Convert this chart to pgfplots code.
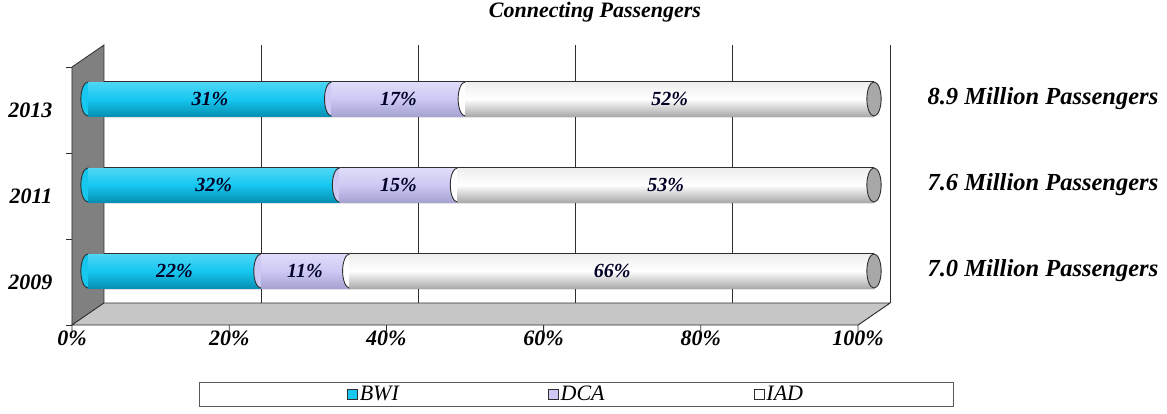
\documentclass[border=0pt]{standalone}
\usepackage{fontspec}
\setmainfont{Liberation Serif}
\usepackage{pgfplots}
\pgfplotsset{compat=1.18}

\definecolor{bwiT}{HTML}{4ED6F4}
\definecolor{bwiM}{HTML}{16C7F0}
\definecolor{bwiB}{HTML}{0690B4}
\definecolor{dcaT}{HTML}{DEDCF8}
\definecolor{dcaM}{HTML}{CDC9F4}
\definecolor{dcaB}{HTML}{A6A2D2}
\definecolor{iadT}{HTML}{EEEEEE}
\definecolor{iadM}{HTML}{FFFFFF}
\definecolor{iadB}{HTML}{ABABAB}
\definecolor{capgray}{HTML}{A8A8A8}
\definecolor{edge}{HTML}{2E2E2E}
\definecolor{wall}{HTML}{808080}
\definecolor{floor}{HTML}{C6C6C6}

\newcommand{\bi}[1]{\bfseries\itshape\fontsize{#1}{#1}\selectfont}

\pgfplotsset{
  base/.style={
    scale only axis, width=786pt, height=258pt,
    at={(88pt,99pt)}, anchor=south west,
    xmin=0, xmax=100, ymin=-0.5, ymax=2.5,
    clip=false, axis line style={draw=none}, tick style={draw=none},
  },
  cap/.style={mark=*, mark size=17pt,
    mark options={xscale=0.42, fill=#1, draw=edge, line width=0.9pt}},
}

% one shaded cylinder per year: #1 row, #2 BWI, #3 DCA, #4 IAD
\newcommand{\cylinder}[4]{%
\begin{axis}[base, xbar stacked, stacked ignores zero=false, reverse stacked plots=false,
  clip marker paths=true, bar width=34pt, xtick=\empty, ytick=\empty]
\addplot[only marks, cap=bwiM] coordinates {(0,#1)};
\addplot[draw=none, top color=bwiT, bottom color=bwiB, middle color=bwiM, cap=dcaM] coordinates {(#2,#1)};
\addplot[draw=none, top color=dcaT, bottom color=dcaB, middle color=dcaM, cap=iadM] coordinates {(#3,#1)};
\addplot[draw=none, top color=iadT, bottom color=iadB, middle color=iadM, cap=capgray] coordinates {(#4,#1)};
\end{axis}}

\begin{document}
\begin{tikzpicture}
% frame, outlines of the cylinders, axis labels
\begin{axis}[base, xbar stacked, bar width=36pt,
  xtick={0,20,40,60,80,100}, xticklabels={0\%,20\%,40\%,60\%,80\%,100\%},
  ytick={0,1,2}, yticklabels={2009,2011,2013},
  xticklabel style={font=\bi{22}, xshift=-16pt, yshift=-13pt},
  yticklabel style={font=\bi{22}, xshift=-32pt, yshift=-11pt},
  title={Connecting Passengers},
  title style={at={(0.645,1.147)}, anchor=center, font=\bi{22}},
]
% floor
\filldraw[fill=floor, draw=edge, line width=0.8pt]
  ([xshift=-16pt,yshift=-11pt]axis cs:0,-0.5) -- ([xshift=-16pt,yshift=-11pt]axis cs:100,-0.5)
  -- ([xshift=16pt,yshift=11pt]axis cs:100,-0.5) -- ([xshift=16pt,yshift=11pt]axis cs:0,-0.5) -- cycle;
% left wall
\filldraw[fill=wall, draw=edge, line width=0.8pt]
  ([xshift=-16pt,yshift=-11pt]axis cs:0,-0.5) -- ([xshift=-16pt,yshift=-11pt]axis cs:0,2.5)
  -- ([xshift=16pt,yshift=11pt]axis cs:0,2.5) -- ([xshift=16pt,yshift=11pt]axis cs:0,-0.5) -- cycle;
% grid on the back wall, lines across the floor, ticks
\pgfplotsinvokeforeach{20,40,60,80,100}{
  \draw[edge, line width=0.8pt] ([xshift=16pt,yshift=11pt]axis cs:#1,-0.5) -- ([xshift=16pt,yshift=11pt]axis cs:#1,2.5);
}
\pgfplotsinvokeforeach{0,20,40,60,80,100}{
  \draw[edge, line width=0.8pt] ([xshift=16pt,yshift=11pt]axis cs:#1,-0.5) -- ([xshift=-16pt,yshift=-11pt]axis cs:#1,-0.5)
    -- ++(0pt,-8pt);
}
\pgfplotsinvokeforeach{-0.5,0.5,1.5,2.5}{
  \draw[edge, line width=0.8pt] ([xshift=-16pt,yshift=-11pt]axis cs:0,#1) -- ++(-6pt,0pt);
}
% dark outline of the cylinders
\addplot[fill=edge, draw=none] coordinates {(22,0) (32,1) (31,2)};
\addplot[fill=edge, draw=none] coordinates {(11.3,0) (15,1) (17,2)};
\addplot[fill=edge, draw=none] coordinates {(66.7,0) (53,1) (52,2)};
\end{axis}

% shaded cylinders
\cylinder{0}{22}{11.3}{66.7}
\cylinder{1}{32}{15}{53}
\cylinder{2}{31}{17}{52}

% value labels, totals, legend
\begin{axis}[base, xtick=\empty, ytick={0,1,2}, yticklabel pos=right,
  yticklabels={7.0 Million Passengers,7.6 Million Passengers,8.9 Million Passengers},
  yticklabel style={font=\bi{24.5}, anchor=west, xshift=50pt},
  legend image code/.code={\draw[#1] (0pt,-5pt) rectangle (10pt,5pt);},
  legend columns=3,
  legend style={at={(0.6209,-0.2636)}, anchor=north, draw=gray!70!black, line width=0.8pt,
    font=\itshape\fontsize{22}{22}\selectfont, inner xsep=148pt, inner ysep=2pt,
    nodes={inner sep=2pt},
    /tikz/every even column/.append style={column sep=147pt}},
]
\addlegendimage{fill=bwiM, draw=edge, line width=0.8pt}
\addlegendimage{fill=dcaM, draw=edge, line width=0.8pt}
\addlegendimage{fill=white, draw=edge, line width=0.8pt}
\addplot[only marks, mark=none, nodes near coords, point meta=explicit symbolic,
  nodes near coords align=center,
  every node near coord/.append style={font=\bi{20}, text=black!85!blue}]
  coordinates {
  (11,0) [22\%] (27.6,0) [11\%] (66.7,0) [66\%]
  (16,1) [32\%] (39.5,1) [15\%] (73.5,1) [53\%]
  (15.5,2) [31\%] (39.5,2) [17\%] (74,2) [52\%]
  };
\legend{BWI,DCA,IAD}
\end{axis}
\pgfresetboundingbox
\path[use as bounding box] (0,0) rectangle (1167pt,413pt);
\end{tikzpicture}
\end{document}
